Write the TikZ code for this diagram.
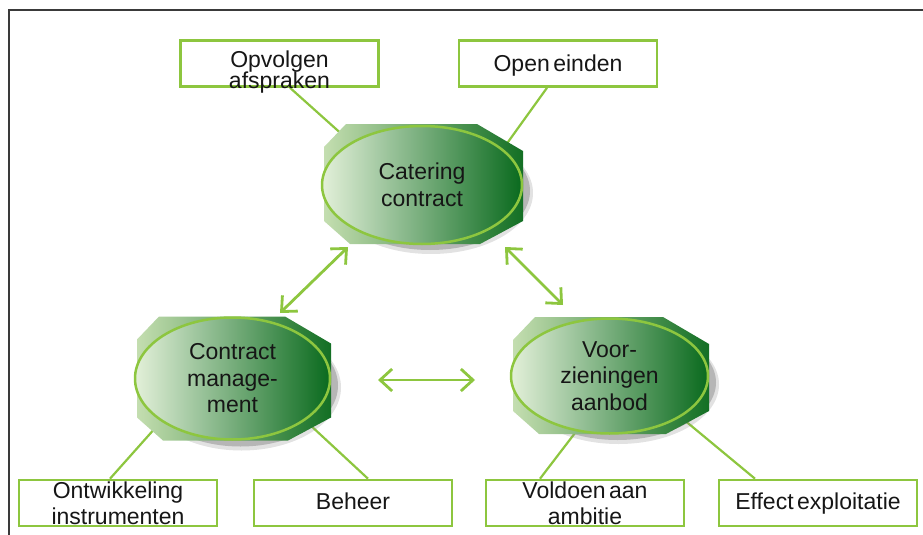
\documentclass[tikz,border=0pt]{standalone}
\usepackage{fontspec}
\setmainfont{Liberation Sans}[WordSpace=0.55]
\usetikzlibrary{arrows.meta,shapes.geometric}
\definecolor{lg}{HTML}{8DC63F}
\definecolor{txt}{HTML}{161616}
\definecolor{frm}{HTML}{3A3A3A}
\definecolor{elL}{HTML}{E3F0D9}
\definecolor{elM}{HTML}{8FBA73}
\definecolor{elR}{HTML}{0A6A1E}
\definecolor{ocL}{HTML}{C4DEB0}
\definecolor{ocM}{HTML}{7FB262}
\definecolor{ocR}{HTML}{136F24}
\definecolor{shd}{HTML}{8A8A8A}
\pgfdeclarelayer{lines}
\pgfdeclarelayer{back}
\pgfsetlayers{lines,back,main}
\newcommand\blobbg[4]{%
  \fill[shd, opacity=0.25] (#1+9,#2+9) ellipse [x radius=#3+2, y radius=#4+2];
  \fill[shd, opacity=0.5] (#1+8,#2+7) ellipse [x radius=#3, y radius=#4];
  \path[left color=ocL, middle color=ocM, right color=ocR]
    (#1-#3+24,#2-#4-1) -- (#1+#3-45,#2-#4-1) -- (#1+#3+1,#2-#4+26) --
    (#1+#3+1,#2+#4-22) -- (#1+#3-42,#2+#4+1) -- (#1-#3+28,#2+#4+1) --
    (#1-#3+2,#2+#4-22) -- (#1-#3+2,#2-#4+22) -- cycle;
}
\lineskiplimit=-20pt
\begin{document}
\begin{tikzpicture}[x=1pt,y=-1pt,
  box/.style={draw=lg, line width=2.6pt, minimum width=198pt, minimum height=46pt, inner sep=0pt, fill=white},
  btext/.style={align=center, inner sep=0pt, text=txt, font=\fontsize{23}{21.5}\selectfont},
  btextw/.style={btext, font=\fontsize{23}{26}\selectfont},
  blob/.style={ellipse, draw=lg, line width=2.5pt, left color=elL, middle color=elM, right color=elR,
    align=center, inner sep=0pt, text=txt, font=\fontsize{23}{26.5}\selectfont},
  conn/.style={draw=lg, line width=2.2pt},
  dbl/.style={draw=lg, line width=2.8pt, {Straight Barb[length=12pt,width=22pt]}-{Straight Barb[length=12pt,width=22pt]}}
]
\useasboundingbox (0,0) rectangle (923,535);
% frame
\draw[frm, line width=1.5pt] (9,535) -- (9,10) -- (923,10);

% blob backgrounds
\begin{pgfonlayer}{back}
  \blobbg{422}{184}{100}{59}
  \blobbg{232.5}{378.5}{97.5}{61}
  \blobbg{609.5}{375.5}{98.5}{57.5}
\end{pgfonlayer}

% ellipses
\node[blob, minimum width=200pt, minimum height=118pt] (cat) at (422,185) {Catering\\contract};
\node[blob, minimum width=195pt, minimum height=122pt] (man) at (232.5,378.5) {Contract\\manage-\\ment};
\node[blob, minimum width=197pt, minimum height=115pt] (voo) at (609.5,376) {Voor-\\zieningen\\aanbod};

% boxes
\node[box] (opv) at (279.5,63.5) {};
\node[btext] (opvT) at (279.5,72) {Opvolgen\\afspraken};
\node[box] (ope) at (558,63.5) {};
\node[btext] (opeT) at (558,66) {Open einden};
\node[box] (ont) at (118,503) {};
\node[btextw] (ontT) at (118,503.5) {Ontwikkeling\\instrumenten};
\node[box] (beh) at (353,503) {};
\node[btext] (behT) at (353,501.6) {Beheer};
\node[box] (vol) at (585,503) {};
\node[btextw] (volT) at (585,503.5) {Voldoen aan\\ambitie};
\node[box] (eff) at (818,503) {};
\node[btext] (effT) at (818,504) {Effect exploitatie};

% connectors
\begin{pgfonlayer}{lines}
  \draw[conn] ([xshift=10.5pt]opv.south) -- (cat.149);
  \draw[conn] ([xshift=-11pt]ope.south) -- (cat.24);
  \draw[conn] ([xshift=-8pt]ont.north) -- (man.211);
  \draw[conn] ([xshift=15pt]beh.north) -- (man.330);
  \draw[conn] ([xshift=-45pt]vol.north) -- (voo.239);
  \draw[conn] ([xshift=-63pt]eff.north) -- (voo.330);
\end{pgfonlayer}

% double arrows
\coordinate (a1s) at (348,247);
\coordinate (a1e) at (280,313);
\coordinate (a2s) at (505,247);
\coordinate (a2e) at (563,305);
\coordinate (a3s) at (378,380);
\coordinate (a3e) at (475,380);
\draw[dbl] (a1s) -- (a1e);
\draw[dbl] (a2s) -- (a2e);
\draw[dbl] (a3s) -- (a3e);
\end{tikzpicture}
\end{document}
